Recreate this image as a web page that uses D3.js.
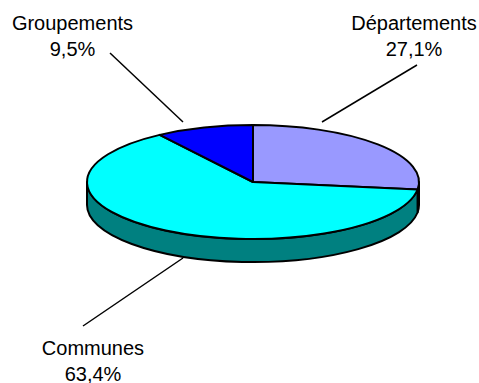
<!DOCTYPE html>
<html>
<head>
<meta charset="utf-8">
<script src="https://cdn.jsdelivr.net/npm/d3@7/dist/d3.min.js"></script>
<style>
  html, body { margin: 0; padding: 0; background: #fff; }
  svg { display: block; }
  text { font-family: "Liberation Sans", Arial, sans-serif; font-size: 20px; fill: #000; }
</style>
</head>
<body>
<div id="chart"></div>
<script>
var categories = ["Départements", "Communes", "Groupements"];
var values = [27.1, 63.4, 9.5];
var valueLabels = ["27,1%", "63,4%", "9,5%"];
var topColors = ["#9999ff", "#00ffff", "#0000ff"];
var sideColors = ["#4d4d80", "#008080", "#000080"];

var width = 479, height = 383;
var cx = 253, cy = 182, rx = 166, ry = 57, depth = 23;

// label place and leader line, same order as categories
var labelPos = [[414, 30], [93, 355], [72.5, 30]];
var leaders = [[[322, 122], [417, 65]], [[183, 258], [83, 326]], [[183, 122], [110, 53]]];

var svg = d3.select("#chart").append("svg")
  .attr("width", width)
  .attr("height", height);

var slices = d3.pie().sort(null)(values);

function px(a) { return cx + rx * Math.sin(a); }
function py(a) { return cy - ry * Math.cos(a); }

// side wall, only the front half of the ellipse can be seen
function wallPath(a0, a1) {
  return "M" + px(a0) + "," + py(a0)
    + "A" + rx + "," + ry + " 0 0 1 " + px(a1) + "," + py(a1)
    + "L" + px(a1) + "," + (py(a1) + depth)
    + "A" + rx + "," + ry + " 0 0 0 " + px(a0) + "," + (py(a0) + depth)
    + "Z";
}

slices.forEach(function(d) {
  var a0 = Math.max(d.startAngle, Math.PI / 2),
      a1 = Math.min(d.endAngle, Math.PI * 1.5);
  if (a1 <= a0) return;
  svg.append("path")
    .attr("d", wallPath(a0, a1))
    .attr("fill", sideColors[d.index])
    .attr("stroke", "#000")
    .attr("stroke-width", 2)
    .attr("stroke-linejoin", "round");
});

var arc = d3.arc().innerRadius(0).outerRadius(rx);

svg.append("g")
  .attr("transform", "translate(" + cx + "," + cy + ") scale(1," + (ry / rx) + ")")
  .selectAll("path")
  .data(slices)
  .enter().append("path")
    .attr("d", arc)
    .attr("fill", function(d) { return topColors[d.index]; })
    .attr("stroke", "#000")
    .attr("stroke-width", 2)
    .attr("stroke-linejoin", "round")
    .attr("vector-effect", "non-scaling-stroke");

svg.selectAll(".leader")
  .data(leaders)
  .enter().append("path")
    .attr("class", "leader")
    .attr("d", d3.line())
    .attr("fill", "none")
    .attr("stroke", "#000")
    .attr("stroke-width", 1.5);

categories.forEach(function(name, i) {
  var t = svg.append("text")
    .attr("text-anchor", "middle")
    .attr("x", labelPos[i][0])
    .attr("y", labelPos[i][1]);
  t.append("tspan").text(name);
  t.append("tspan")
    .attr("x", labelPos[i][0])
    .attr("dy", 25.5)
    .text(valueLabels[i]);
});
</script>
</body>
</html>
